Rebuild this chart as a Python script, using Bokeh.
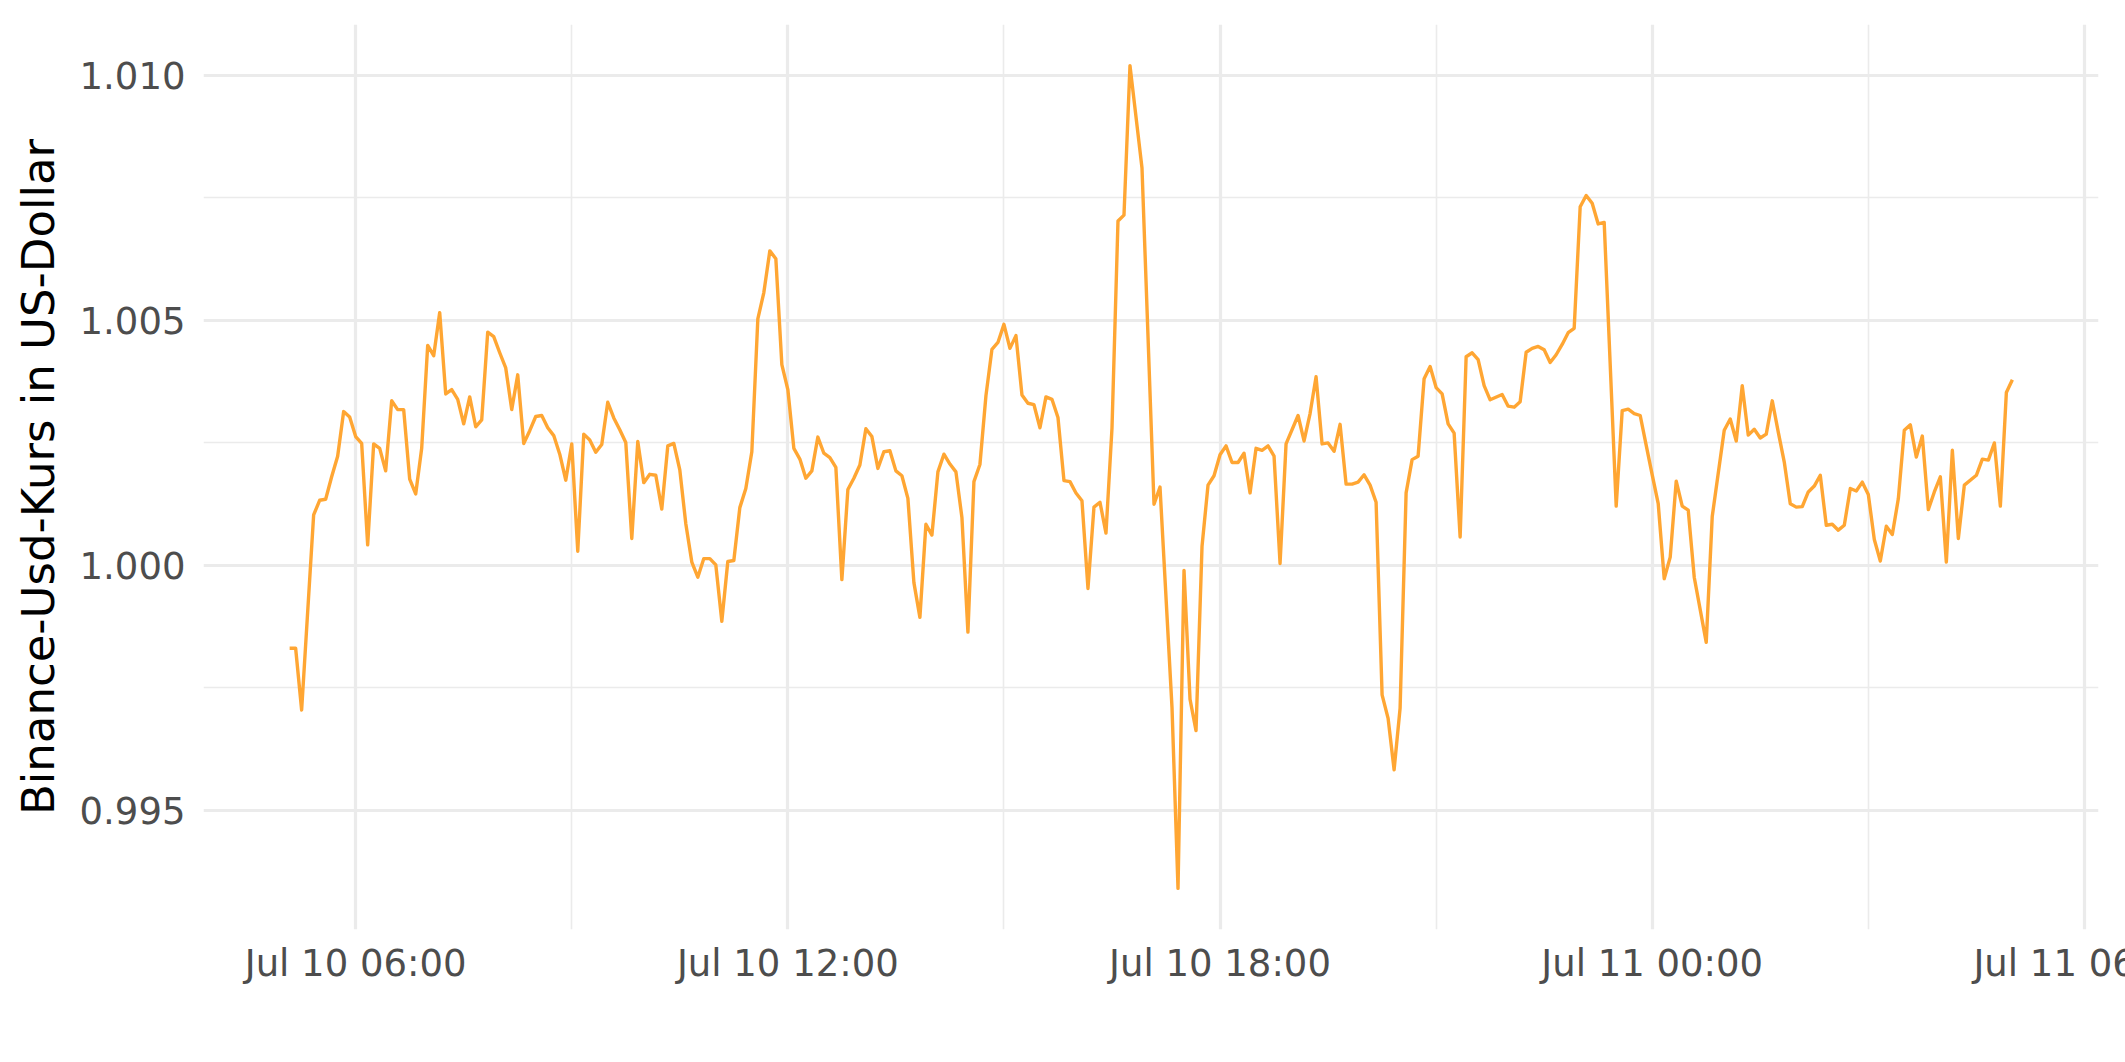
import pandas as pd
from bokeh.plotting import figure
from bokeh.models import Range1d, FixedTicker, DatetimeTickFormatter, NumeralTickFormatter
from bokeh.embed import file_html
from bokeh.resources import INLINE

# ---- data: minutes after 2023-07-10 06:00, BUSD/USD rate ----
minutes = [
    -55, -50, -45, -35, -30, -25, -20, -15, -10, -5,
    0, 5, 10, 15, 20, 25, 30, 35, 40, 45,
    50, 55, 60, 65, 70, 75, 80, 85, 90, 95,
    100, 105, 110, 115, 120, 125, 130, 135, 140, 145,
    150, 155, 160, 165, 170, 175, 180, 185, 190, 195,
    200, 205, 210, 215, 220, 225, 230, 235, 240, 245,
    250, 255, 260, 265, 270, 275, 280, 285, 290, 295,
    300, 305, 310, 315, 320, 325, 330, 335, 340, 345,
    350, 355, 360, 365, 370, 375, 380, 385, 390, 395,
    400, 405, 410, 415, 420, 425, 430, 435, 440, 445,
    450, 455, 460, 465, 470, 475, 480, 485, 490, 495,
    500, 505, 510, 515, 520, 525, 530, 535, 540, 545,
    550, 555, 560, 565, 570, 575, 580, 585, 590, 595,
    600, 605, 610, 615, 620, 625, 630, 635, 640, 645,
    655, 665, 670, 680, 685, 690, 695, 700, 705, 710,
    715, 720, 725, 730, 735, 740, 745, 750, 755, 760,
    765, 770, 775, 785, 790, 795, 800, 805, 810, 815,
    820, 825, 830, 835, 840, 845, 850, 855, 860, 865,
    870, 875, 880, 885, 890, 895, 900, 905, 910, 915,
    920, 925, 930, 935, 940, 945, 955, 960, 965, 970,
    975, 980, 985, 990, 995, 1000, 1005, 1010, 1015, 1020,
    1025, 1030, 1035, 1040, 1050, 1055, 1060, 1065, 1070, 1075,
    1080, 1085, 1090, 1095, 1100, 1105, 1110, 1115, 1125, 1130,
    1135, 1140, 1145, 1150, 1155, 1160, 1165, 1170, 1175, 1180,
    1185, 1190, 1195, 1200, 1205, 1210, 1215, 1220, 1225, 1230,
    1235, 1240, 1245, 1250, 1255, 1260, 1265, 1270, 1275, 1280,
    1285, 1290, 1295, 1300, 1305, 1310, 1315, 1320, 1325, 1330,
    1335, 1340, 1350, 1355, 1360, 1365, 1370, 1375, 1380,
]
rate = [
    0.99831, 0.99831, 0.99705, 1.00103, 1.00133, 1.00135, 1.00181, 1.00223, 1.00314, 1.00303,
    1.00263, 1.00249, 1.00042, 1.00248, 1.00239, 1.00193, 1.00336, 1.00318, 1.00318, 1.00176,
    1.00146, 1.00239, 1.00449, 1.00428, 1.00516, 1.00350, 1.00359, 1.00339, 1.00289, 1.00344,
    1.00283, 1.00297, 1.00476, 1.00467, 1.00434, 1.00403, 1.00318, 1.00389, 1.00249, 1.00275,
    1.00304, 1.00306, 1.00281, 1.00265, 1.00227, 1.00174, 1.00248, 1.00029, 1.00268, 1.00256,
    1.00231, 1.00247, 1.00333, 1.00301, 1.00277, 1.00251, 1.00055, 1.00253, 1.00169, 1.00186,
    1.00184, 1.00115, 1.00244, 1.00249, 1.00195, 1.00085, 1.00007, 0.99976, 1.00014, 1.00014,
    1.00001, 0.99886, 1.00008, 1.00010, 1.00118, 1.00157, 1.00232, 1.00503, 1.00557, 1.00642,
    1.00626, 1.00410, 1.00359, 1.00239, 1.00217, 1.00178, 1.00193, 1.00262, 1.00229, 1.00220,
    1.00200, 0.99971, 1.00155, 1.00178, 1.00205, 1.00279, 1.00263, 1.00198, 1.00232, 1.00234,
    1.00193, 1.00183, 1.00137, 0.99965, 0.99894, 1.00084, 1.00062, 1.00191, 1.00227, 1.00207,
    1.00191, 1.00098, 0.99864, 1.00171, 1.00206, 1.00346, 1.00441, 1.00455, 1.00492, 1.00443,
    1.00469, 1.00348, 1.00331, 1.00328, 1.00281, 1.00344, 1.00339, 1.00302, 1.00173, 1.00171,
    1.00148, 1.00132, 0.99953, 1.00119, 1.00129, 1.00066, 1.00280, 1.00703, 1.00715, 1.01020,
    1.00811, 1.00125, 1.00160, 0.99710, 0.99341, 0.99990, 0.99727, 0.99663, 1.00039, 1.00164,
    1.00183, 1.00226, 1.00244, 1.00210, 1.00210, 1.00229, 1.00148, 1.00239, 1.00235, 1.00244,
    1.00223, 1.00004, 1.00248, 1.00306, 1.00254, 1.00310, 1.00385, 1.00248, 1.00250, 1.00233,
    1.00288, 1.00166, 1.00166, 1.00170, 1.00185, 1.00164, 1.00129, 0.99736, 0.99688, 0.99583,
    0.99709, 1.00148, 1.00216, 1.00223, 1.00381, 1.00406, 1.00363, 1.00350, 1.00289, 1.00270,
    1.00058, 1.00426, 1.00434, 1.00420, 1.00367, 1.00338, 1.00349, 1.00325, 1.00323, 1.00334,
    1.00435, 1.00443, 1.00447, 1.00440, 1.00414, 1.00430, 1.00451, 1.00475, 1.00484, 1.00732,
    1.00755, 1.00739, 1.00697, 1.00700, 1.00121, 1.00316, 1.00319, 1.00310, 1.00306, 1.00245,
    1.00185, 1.00126, 0.99973, 1.00017, 1.00172, 1.00121, 1.00113, 0.99976, 0.99843, 1.00100,
    1.00188, 1.00276, 1.00299, 1.00254, 1.00367, 1.00266, 1.00278, 1.00260, 1.00268, 1.00336,
    1.00272, 1.00211, 1.00126, 1.00119, 1.00120, 1.00150, 1.00162, 1.00184, 1.00082, 1.00084,
    1.00072, 1.00082, 1.00157, 1.00152, 1.00170, 1.00145, 1.00053, 1.00009, 1.00080, 1.00063,
    1.00136, 1.00276, 1.00287, 1.00221, 1.00264, 1.00114, 1.00150, 1.00181, 1.00007, 1.00235,
    1.00055, 1.00164, 1.00184, 1.00217, 1.00215, 1.00250, 1.00121, 1.00353, 1.00379,
]

x_major = ["2023-07-10 06:00", "2023-07-10 12:00", "2023-07-10 18:00",
           "2023-07-11 00:00", "2023-07-11 06:00"]
x_minor = ["2023-07-10 09:00", "2023-07-10 15:00", "2023-07-10 21:00",
           "2023-07-11 03:00"]
y_major = [0.995, 1.000, 1.005, 1.010]
y_minor = [0.9975, 1.0025, 1.0075]
y_title = "Binance-Usd-Kurs in US-Dollar"

# ---- build ----
base = pd.Timestamp("2023-07-10 06:00")
times = base + pd.to_timedelta(minutes, unit="min")

def ms(ts):
    return pd.Timestamp(ts).value / 1e6

t0, t1 = ms(times.min()), ms(times.max())
xpad = (t1 - t0) * 0.05
y0, y1 = min(rate), max(rate)
ypad = (y1 - y0) * 0.05

p = figure(
    x_axis_type="datetime",
    output_backend="svg",
    toolbar_location=None,
    frame_width=1895, frame_height=905,
    min_border_left=203, min_border_right=121,
    min_border_top=24, min_border_bottom=111,
    x_range=Range1d(t0 - xpad, t1 + xpad),
    y_range=Range1d(y0 - ypad, y1 + ypad),
    background_fill_color="white",
    border_fill_color="white",
)
p.outline_line_color = None

p.line(times, rate, line_color="#FFA633", line_width=3.4, line_join="round")

p.xaxis.ticker = FixedTicker(ticks=[ms(t) for t in x_major], minor_ticks=[ms(t) for t in x_minor])
fmt = "%b %d %H:%M"
p.xaxis.formatter = DatetimeTickFormatter(
    milliseconds=fmt, seconds=fmt, minsec=fmt, minutes=fmt, hourmin=fmt,
    hours=fmt, days=fmt, months=fmt, years=fmt)
p.yaxis.ticker = FixedTicker(ticks=y_major, minor_ticks=y_minor)
p.yaxis.formatter = NumeralTickFormatter(format="0.000")

for ax in (p.xaxis, p.yaxis):
    ax.axis_line_color = None
    ax.major_tick_line_color = None
    ax.minor_tick_line_color = None
    ax.major_tick_out = 0
    ax.major_tick_in = 0
    ax.minor_tick_out = 0
    ax.minor_tick_in = 0
    ax.major_label_text_font = "DejaVu Sans"
    ax.major_label_text_font_size = "37px"
    ax.major_label_text_color = "#4D4D4D"

p.xaxis.major_label_standoff = 12
p.yaxis.major_label_standoff = 18
p.yaxis.axis_label = y_title
p.yaxis.axis_label_text_font = "DejaVu Sans"
p.yaxis.axis_label_text_font_size = "45px"
p.yaxis.axis_label_text_font_style = "normal"
p.yaxis.axis_label_text_color = "black"
p.yaxis.axis_label_standoff = 12

for g in (p.xgrid, p.ygrid):
    g.grid_line_color = "#EBEBEB"
    g.grid_line_width = 3.2
    g.minor_grid_line_color = "#EBEBEB"
    g.minor_grid_line_width = 1.6

# the last tick label runs past the window edge, as in the original; hide scrollbars
page_template = """
{% block preamble %}
<style>html, body { overflow: hidden; }</style>
{% endblock %}
"""

open("out.html", "w").write(file_html(p, INLINE, template=page_template))
